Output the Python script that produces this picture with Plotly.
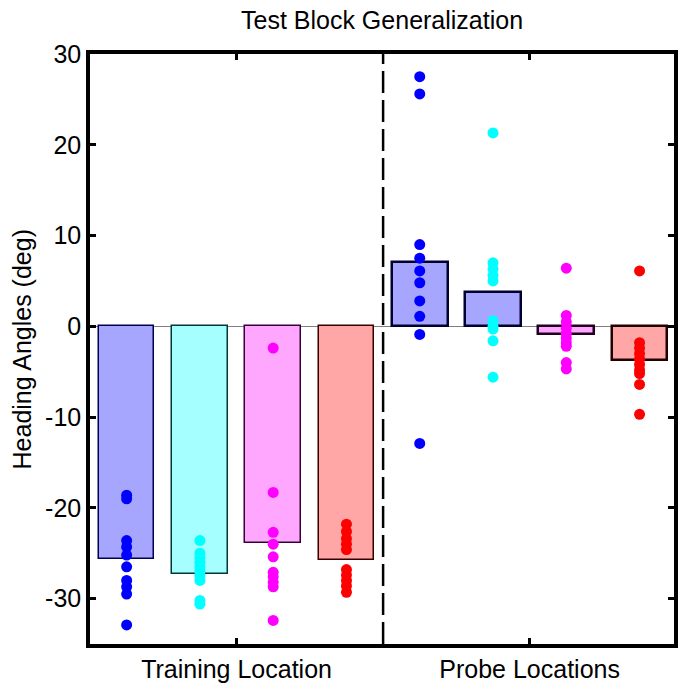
import plotly.graph_objects as go

# Group positions and labels
positions = [1, 2, 3, 4, 5, 6, 7, 8]
group_ticks = [2.5, 6.5]
group_labels = ["Training Location", "Probe Locations"]
y_ticks = [-30, -20, -10, 0, 10, 20, 30]
y_tick_text = [str(v) for v in y_ticks]

# Mean heading angle per condition (deg)
training_means = [-25.6, -27.3, -23.9, -25.7]
probe_means = [7.1, 3.8, -0.9, -3.7]

# Individual subject heading angles (deg)
train_blue = [-18.6, -19.0, -23.6, -24.3, -25.2, -26.5, -28.0, -28.7, -29.5, -32.9]
train_cyan = [-23.6, -25.0, -25.5, -26.0, -26.5, -27.0, -27.5, -28.0, -30.2, -30.6]
train_magenta = [-2.4, -18.3, -22.7, -24.0, -25.4, -27.1, -27.6, -28.2, -28.7, -32.4]
train_red = [-21.8, -22.6, -23.4, -24.0, -24.6, -26.8, -27.4, -28.0, -28.6, -29.3]
probe_blue = [27.5, 25.6, 9.0, 7.5, 6.1, 4.8, 2.8, 1.1, -0.9, -12.9]
probe_cyan = [21.3, 7.0, 6.3, 5.6, 5.0, 0.6, 0.0, -0.3, -1.6, -5.6]
probe_magenta = [6.4, 1.2, 0.5, -0.2, -0.8, -1.3, -1.8, -2.2, -4.0, -4.7]
probe_red = [6.1, -1.8, -2.4, -3.0, -3.6, -4.2, -4.8, -5.2, -6.4, -9.7]

point_groups = [train_blue, train_cyan, train_magenta, train_red,
                probe_blue, probe_cyan, probe_magenta, probe_red]
point_colors = ["#0000FF", "#00FFFF", "#FF00FF", "#FF0000",
                "#0000FF", "#00FFFF", "#FF00FF", "#FF0000"]

bar_fill = ["#A6A6FF", "#A6FFFF", "#FFA6FF", "#FFA6A6",
            "#A6A6FF", "#A6A6FF", "#FFA6FF", "#FFA6A6"]
bar_edge = ["#000050", "#003838", "#380038", "#380000",
            "#000030", "#000030", "#200020", "#200000"]
bar_edge_w = [1.5, 1.5, 1.5, 1.5, 2.5, 2.5, 2.5, 2.5]

font_family = "Arial, Liberation Sans, sans-serif"
font_size = 25

fig = go.Figure()

fig.add_trace(go.Bar(
    x=positions,
    y=training_means + probe_means,
    width=0.76,
    marker=dict(color=bar_fill, line=dict(color=bar_edge, width=bar_edge_w)),
    showlegend=False,
    hoverinfo="skip",
))

for pos, vals, col in zip(positions, point_groups, point_colors):
    fig.add_trace(go.Scatter(
        x=[pos] * len(vals),
        y=vals,
        mode="markers",
        marker=dict(color=col, size=11, line=dict(width=0)),
        showlegend=False,
    ))

# Divider between training and probe conditions
fig.add_shape(type="line", xref="x", yref="y",
              x0=4.5, x1=4.5, y0=-35, y1=30,
              line=dict(color="black", width=2.5, dash="22px,7px"),
              layer="above")

fig.update_xaxes(
    range=[0.5, 8.47],
    tickmode="array", tickvals=group_ticks, ticktext=group_labels,
    ticks="inside", ticklen=6, tickwidth=3, tickcolor="black",
    showline=True, linecolor="black", linewidth=3.5, mirror="allticks",
    showgrid=False, zeroline=False,
    tickfont=dict(family=font_family, size=font_size, color="black"),
)
fig.update_yaxes(
    range=[-35, 30],
    tickmode="array", tickvals=y_ticks, ticktext=y_tick_text,
    ticks="inside", ticklen=6, tickwidth=3, tickcolor="black",
    showline=True, linecolor="black", linewidth=3.5, mirror="allticks",
    showgrid=False,
    zeroline=True, zerolinecolor="#808080", zerolinewidth=1,
    tickfont=dict(family=font_family, size=font_size, color="black"),
)

fig.add_annotation(
    text="Heading Angles (deg)", textangle=-90,
    xref="paper", yref="paper", x=(22 - 90) / 588, y=0.5,
    xanchor="center", yanchor="middle", showarrow=False,
    font=dict(family=font_family, size=font_size, color="black"),
)
fig.add_annotation(
    text="Test Block Generalization",
    xref="paper", yref="paper", x=0.5, y=1 + (54 - 20) / 593,
    xanchor="center", yanchor="middle", showarrow=False,
    font=dict(family=font_family, size=font_size, color="black"),
)

fig.update_layout(
    width=678, height=683,
    margin=dict(l=90, r=0, t=54, b=36),
    paper_bgcolor="white", plot_bgcolor="white",
    bargap=0,
)

fig.write_html("out.html")
